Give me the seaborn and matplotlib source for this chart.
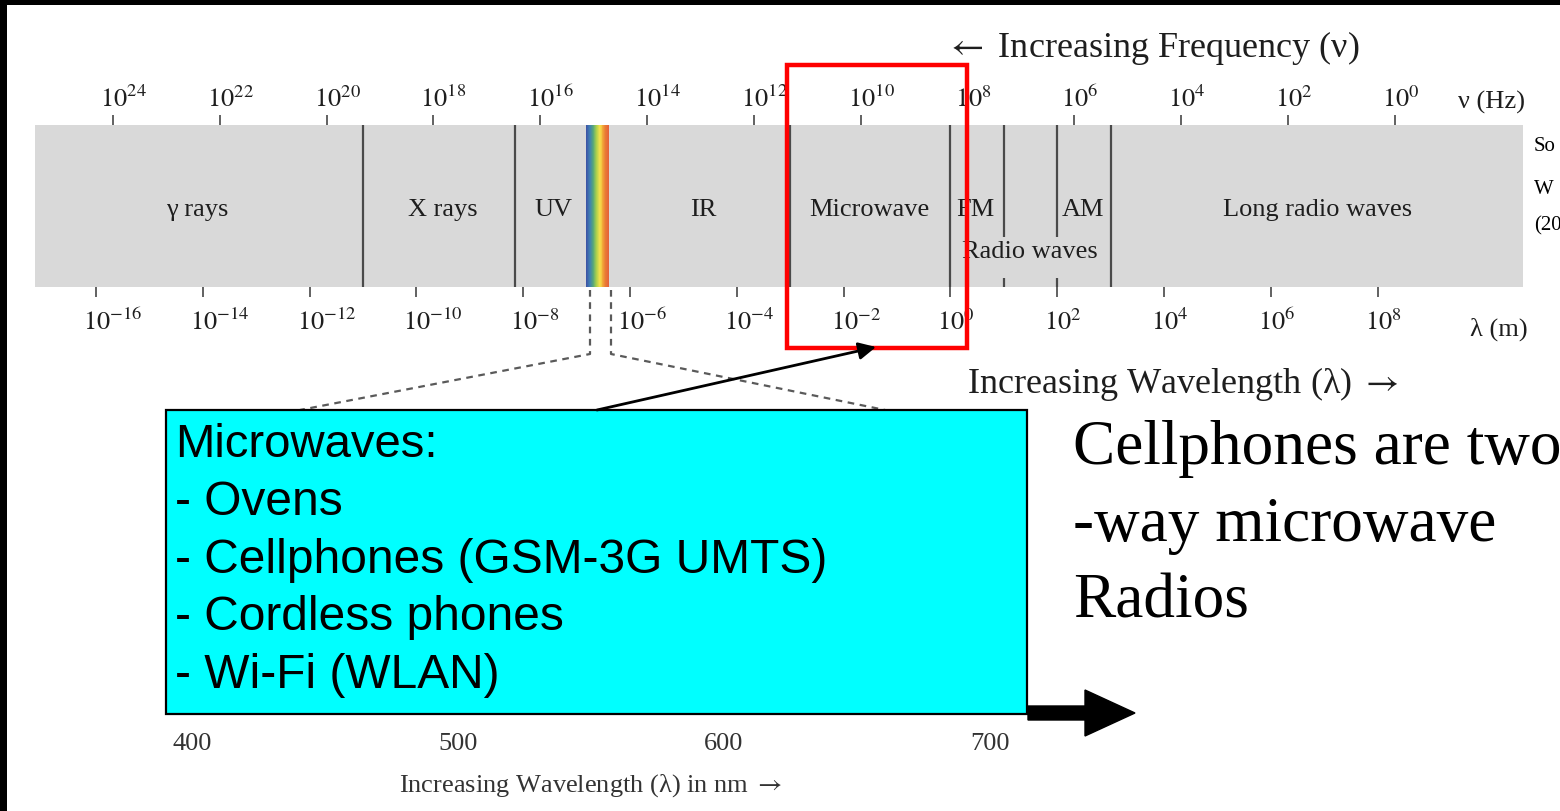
import numpy as np
import matplotlib
matplotlib.use("Agg")
import matplotlib.pyplot as plt
import matplotlib.transforms as mtransforms
from matplotlib.patches import Rectangle
import seaborn as sns

# --- values ---
# strip x axis is log10(wavelength / m)
lam_exp = [-16, -14, -12, -10, -8, -6, -4, -2, 0, 2, 4, 6, 8]
nu_exp = [24, 22, 20, 18, 16, 14, 12, 10, 8, 6, 4, 2, 0]
log_c = 8.32   # where 1 Hz sits on the wavelength scale, as drawn

band_names = ["γ rays", "X rays", "UV", "IR", "Microwave", "FM", "AM", "Long radio waves"]
band_mid = [-14.1, -9.5, -7.44, -4.63, -1.52, 0.46, 2.48, 6.88]
full_edges = [-11.0, -8.15, -3.0, 0.0, 3.0]
split_edges = [1.0, 2.0]          # the two lines broken by "Radio waves"
radio_mid = 1.49
visible = [-6.82, -6.39]
vis_colors = ["#3c55a6", "#3f7fb4", "#56a77a", "#a9cf4c", "#f4e04c",
              "#f3b33c", "#ea7d34", "#e4623a"]

nm_ticks = [400, 500, 600, 700]

box_title = "Microwaves:"
box_items = ["Ovens", "Cellphones (GSM-3G UMTS)", "Cordless phones", "Wi-Fi (WLAN)"]
side_lines = ["Cellphones are two", "-way microwave", "Radios"]
# source note, cut off by the slide edge in the original
source_lines = ["So", "W", "(20"]

W, H = 1560, 812

sns.set_theme(style="white")
plt.rcParams["font.family"] = ["Liberation Serif", "DejaVu Serif"]
plt.rcParams["mathtext.fontset"] = "stix"

fig = plt.figure(figsize=(W / 100, H / 100), dpi=100)
fig.patch.set_facecolor("white")


def frac(x0, y0, x1, y1):
    # pixel box (top-left origin) -> figure fraction
    return [x0 / W, 1 - y1 / H, (x1 - x0) / W, (y1 - y0) / H]


def fix_labels(labels):
    # centre the "10" of each label on its tick, like the original
    off = mtransforms.ScaledTranslation(-13 / 100, 0, fig.dpi_scale_trans)
    for lab in labels:
        lab.set_horizontalalignment("left")
        lab.set_transform(lab.get_transform() + off)


ink = "#1e1e1e"

# --- spectrum strip ---
sp = fig.add_axes(frac(35, 126, 1523, 288))
sp.set_xlim(-17.14, 10.72)
sp.set_ylim(0, 1)
sp.set_facecolor("#d9d9d9")
sns.despine(ax=sp, left=True, bottom=True)
sp.set_yticks([])
sp.set_xticks(lam_exp)
sp.set_xticklabels([f"$10^{{{e}}}$" for e in lam_exp])
sp.tick_params(axis="x", bottom=True, direction="out", length=7, width=1.3,
               color="#555555", labelsize=19, pad=8, labelcolor=ink)
fix_labels(sp.get_xticklabels())

top = sp.twiny()
top.set_xlim(sp.get_xlim())
for s in top.spines.values():
    s.set_visible(False)
top.set_xticks([log_c - e for e in nu_exp])
top.set_xticklabels([f"$10^{{{e}}}$" for e in nu_exp])
top.tick_params(axis="x", top=True, bottom=False, labeltop=True, labelbottom=False,
                direction="out", length=7, width=1.3, color="#555555",
                labelsize=19, pad=3, labelcolor=ink)
fix_labels(top.get_xticklabels())

sp.vlines(full_edges, 0, 1, color="#4a4a4a", lw=1.6)
sp.vlines(split_edges, 0.31, 1, color="#4a4a4a", lw=1.6)
sp.vlines(split_edges, 0, 0.056, color="#4a4a4a", lw=1.6)

n = 24
edges = np.linspace(visible[0], visible[1], n + 1)
for c, a, b in zip(sns.blend_palette(vis_colors, n), edges[:-1], edges[1:]):
    sp.axvspan(a, b, color=c, lw=0)

for name, x in zip(band_names, band_mid):
    sp.text(x, 0.444, name, ha="center", va="baseline", fontsize=19, color=ink)
sp.text(radio_mid, 0.185, "Radio waves", ha="center", va="baseline", fontsize=19,
        color=ink)

# --- visible-light axis left under the cyan box ---
nm = fig.add_axes(frac(192, 721, 990, 722))
nm.set_xlim(400, 700)
nm.patch.set_alpha(0)
sns.despine(ax=nm, left=True, bottom=True)
nm.set_yticks([])
nm.set_xticks(nm_ticks)
nm.tick_params(axis="x", bottom=True, length=0, labelsize=19, pad=8, labelcolor="#333333")
nm.set_xlabel(r"Increasing Wavelength (λ) in nm $\rightarrow$", fontsize=19,
              labelpad=12, color="#333333")

# --- slide overlay in pixel units ---
ax = fig.add_axes([0, 0, 1, 1])
ax.set_xlim(0, W)
ax.set_ylim(H, 0)
ax.axis("off")
ax.patch.set_alpha(0)

ax.add_patch(Rectangle((0, 0), W, 6, color="black", lw=0))
ax.add_patch(Rectangle((0, 0), 7, H, color="black", lw=0))

ax.text(1152, 57, r"$\leftarrow$ Increasing Frequency (ν)", ha="center", va="baseline",
        fontsize=26, color=ink)
ax.text(1183, 393, r"Increasing Wavelength (λ) $\rightarrow$", ha="center", va="baseline",
        fontsize=26, color=ink)
ax.text(1491, 109, "ν (Hz)", ha="center", va="baseline", fontsize=19, color=ink)
ax.text(1499, 336, "λ (m)", ha="center", va="baseline", fontsize=19, color=ink)
for txt, y in zip(source_lines, [151, 194, 230]):
    ax.text(1534, y, txt, ha="left", va="baseline", fontsize=15, color="black")

dash = dict(color="#5a5a5a", lw=1.6, ls=(0, (3, 2.5)))
ax.plot([590, 590, 300], [291, 355, 411], **dash)
ax.plot([611, 611, 885], [291, 355, 411], **dash)

ax.add_patch(Rectangle((787, 66), 180, 283, fill=False, ec="#ff0000", lw=3.2, zorder=5))

ax.add_patch(Rectangle((166, 411), 861, 304, fc="#00ffff", ec="black", lw=1.6, zorder=6))
sans = ["Liberation Sans", "DejaVu Sans"]
ax.text(175, 457, box_title, family=sans, fontsize=34, va="baseline", color="black",
        zorder=7)
for i, item in enumerate(box_items):
    ax.text(175, 515 + 57.7 * i, "- " + item, family=sans, fontsize=34.5, color="black",
            va="baseline", zorder=7)

ax.annotate("", xy=(876, 348), xytext=(597, 411), zorder=8,
            arrowprops=dict(arrowstyle="-|>", lw=2, color="black",
                            mutation_scale=26, shrinkA=0, shrinkB=0))
ax.arrow(1028, 714, 107, 0, width=14, head_width=46, head_length=50,
         length_includes_head=True, fc="black", ec="black", zorder=8)

for txt, y in zip(side_lines, [464, 541, 618]):
    ax.text(1073, y, txt, ha="left", va="baseline", fontsize=45.5, color="black")

fig.savefig("out.png", dpi=100)
